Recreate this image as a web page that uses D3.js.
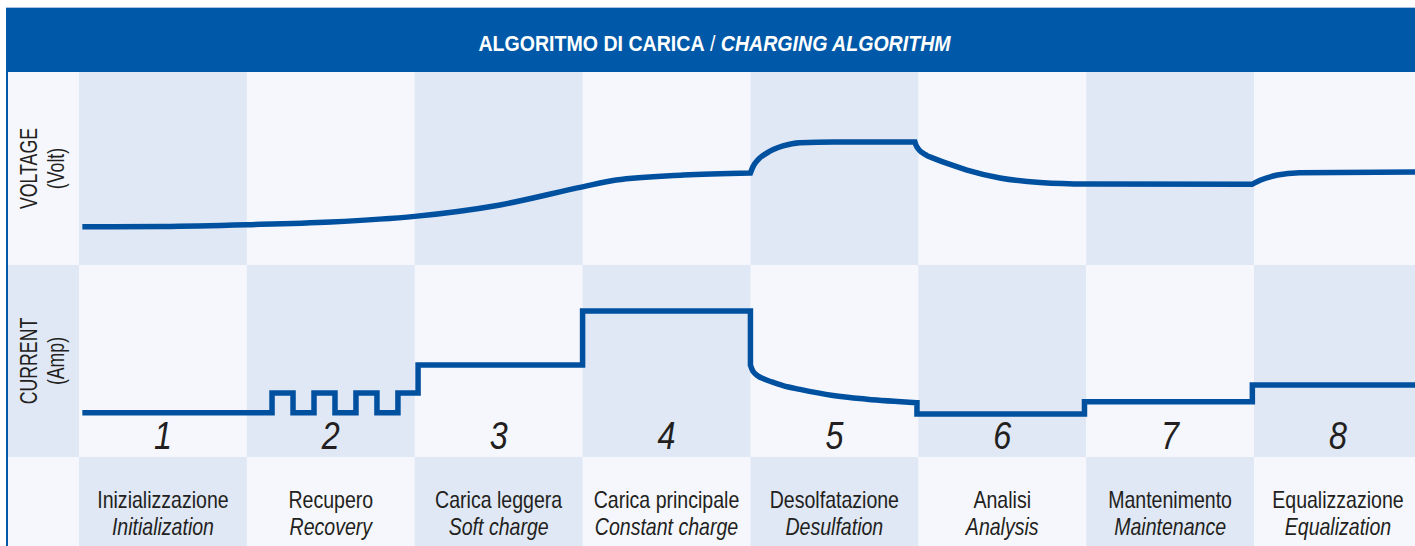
<!DOCTYPE html>
<html>
  <head>
    <meta charset="utf-8">
    <title>Algoritmo di carica</title>
    <script src="https://cdn.jsdelivr.net/npm/d3@7/dist/d3.min.js"></script>
    <style type="text/css">

html, body {
  margin: 0;
  padding: 0;
  background: #fff;
}

svg {
  display: block;
  font-family: "Liberation Sans", Arial, sans-serif;
}

.label { fill: #231f20; }

    </style>
  </head>
  <body>
    <script type="text/javascript">

// stages along the x axis (each stage is one unit wide)
var stageNumbers = ["1", "2", "3", "4", "5", "6", "7", "8"];
var stageIt = ["Inizializzazione", "Recupero", "Carica leggera", "Carica principale",
               "Desolfatazione", "Analisi", "Mantenimento", "Equalizzazione"];
var stageEn = ["Initialization", "Recovery", "Soft charge", "Constant charge",
               "Desulfation", "Analysis", "Maintenance", "Equalization"];

// voltage trace, relative level 0-100, one array per smooth piece
var voltageRise = [[0.02, 19.8], [0.5, 20.0], [1.0, 20.9], [1.5, 22.3], [2.0, 25.2],
                   [2.5, 31.0], [3.0, 40.5], [3.2, 44.0], [3.6, 46.6], [4.0, 47.7]];
var voltageDesulf = [[4.0, 47.7], [4.015, 50.9], [4.05, 55.0], [4.097, 58.0], [4.194, 61.7],
                     [4.295, 63.4], [4.5, 63.7], [4.98, 63.7]];
var voltageDrop = [[4.98, 63.7], [4.986, 62.2], [4.998, 60.4], [5.022, 58.3], [5.052, 56.7],
                   [5.088, 55.4], [5.189, 52.1], [5.29, 49.2], [5.487, 45.1], [5.725, 42.8],
                   [6.0, 42.0], [6.988, 41.8]];
var voltageEqual = [[6.988, 41.8], [7.04, 44.0], [7.14, 46.6], [7.27, 47.8], [8.0, 48.2]];

// current trace, relative level 0-100
var currentSteps = [[0.02, 23.1], [1.15, 33.3], [1.275, 23.1], [1.40, 33.3], [1.525, 23.1],
                    [1.65, 33.3], [1.775, 23.1], [1.90, 33.3], [2.02, 47.9], [3.0, 76.0], [4.0, 47.9]];
var currentDecay = [[4.0, 47.9], [4.009, 45.8], [4.021, 44.0], [4.045, 42.2], [4.081, 40.6],
                    [4.128, 39.1], [4.194, 37.2], [4.295, 35.2], [4.492, 32.0], [4.694, 30.1],
                    [4.992, 28.3]];
var currentTail = [[4.992, 28.3], [4.992, 22.4], [5.99, 28.8], [6.99, 37.5], [8.0, 37.5]];

var width = 1415, height = 546;
var left = 8, labelW = 71, colW = 167.86;
var headTop = 8, headBottom = 72, vBottom = 265, cBottom = 457;
var narrow = 0.85;

var light = "#f5f7fc", tint = "#e0e7f5", blue = "#0059a8", lineBlue = "#0050a0";

var svg = d3.select("body").append("svg")
    .attr("width", width)
    .attr("height", height);

var x = d3.scaleLinear().domain([0, 8]).range([left + labelW, left + labelW + 8 * colW]);
var yV = d3.scaleLinear().domain([0, 100]).range([vBottom, headBottom]);
var yC = d3.scaleLinear().domain([0, 100]).range([cBottom, vBottom]);

// checkerboard background
var rows = [[headBottom, vBottom], [vBottom, cBottom], [cBottom, height]];
rows.forEach(function(r, ri) {
  svg.append("rect")
      .attr("x", left).attr("y", r[0])
      .attr("width", labelW).attr("height", r[1] - r[0])
      .attr("fill", ri % 2 ? tint : light);
  svg.selectAll(null)
      .data(stageNumbers)
    .enter().append("rect")
      .attr("x", function(d, i) { return x(i); })
      .attr("y", r[0])
      .attr("width", colW + 0.5)
      .attr("height", r[1] - r[0])
      .attr("fill", function(d, i) { return (i + ri) % 2 ? light : tint; });
});

// header bar
svg.append("line")
    .attr("x1", left - 2).attr("x2", width)
    .attr("y1", headTop - 0.5).attr("y2", headTop - 0.5)
    .attr("stroke", "#a9c1e2");
svg.append("rect")
    .attr("x", left - 2).attr("y", headTop)
    .attr("width", width).attr("height", headBottom - headTop)
    .attr("fill", blue);
svg.append("rect")
    .attr("x", left - 2).attr("y", headTop)
    .attr("width", 2).attr("height", height)
    .attr("fill", blue);

var title = svg.append("text")
    .attr("transform", "translate(" + ((left + width) / 2 + 3) + ",51) scale(0.89,1)")
    .attr("text-anchor", "middle")
    .attr("fill", "#fff")
    .style("font-size", "22px")
    .style("font-weight", "bold");
title.append("tspan").text("ALGORITMO DI CARICA");
title.append("tspan").style("font-weight", "normal").text(" / ");
title.append("tspan").style("font-style", "italic").text("CHARGING ALGORITHM");

// row titles
function rowTitle(lines, cy) {
  var t = svg.append("text")
      .attr("class", "label")
      .attr("transform", "translate(0," + cy + ") rotate(-90) scale(0.77,1)")
      .attr("text-anchor", "middle")
      .style("font-size", "23px");
  t.append("tspan").attr("x", 0).attr("y", 37).text(lines[0]);
  t.append("tspan").attr("x", 0).attr("y", 64).text(lines[1]);
}
rowTitle(["VOLTAGE", "(Volt)"], (headBottom + vBottom) / 2);
rowTitle(["CURRENT", "(Amp)"], (vBottom + cBottom) / 2);

// stage numbers
svg.selectAll(".num")
    .data(stageNumbers)
  .enter().append("text")
    .attr("class", "label num")
    .attr("transform", function(d, i) { return "translate(" + x(i + 0.5) + ",449) scale(" + narrow + ",1)"; })
    .attr("text-anchor", "middle")
    .style("font-size", "38px")
    .style("font-style", "italic")
    .text(function(d) { return d; });

// stage names
svg.selectAll(".it")
    .data(stageIt)
  .enter().append("text")
    .attr("class", "label it")
    .attr("transform", function(d, i) { return "translate(" + x(i + 0.5) + ",508) scale(" + narrow + ",1)"; })
    .attr("text-anchor", "middle")
    .style("font-size", "23px")
    .text(function(d) { return d; });

svg.selectAll(".en")
    .data(stageEn)
  .enter().append("text")
    .attr("class", "label en")
    .attr("transform", function(d, i) { return "translate(" + x(i + 0.5) + ",535) scale(" + narrow + ",1)"; })
    .attr("text-anchor", "middle")
    .style("font-size", "23px")
    .style("font-style", "italic")
    .text(function(d) { return d; });

// traces
function trace(y, pieces) {
  return pieces.map(function(p, i) {
    var d = d3.line()
        .x(function(d) { return x(d[0]); })
        .y(function(d) { return y(d[1]); })
        .curve(p[1])(p[0]);
    return i ? d.replace(/^M/, "L") : d;
  }).join("");
}

svg.append("path")
    .attr("d", trace(yV, [[voltageRise, d3.curveMonotoneX], [voltageDesulf, d3.curveMonotoneX],
                          [voltageDrop, d3.curveMonotoneX], [voltageEqual, d3.curveMonotoneX]]))
    .attr("fill", "none")
    .attr("stroke", lineBlue)
    .attr("stroke-width", 5.5);

svg.append("path")
    .attr("d", trace(yC, [[currentSteps, d3.curveStepAfter], [currentDecay, d3.curveMonotoneX],
                          [currentTail, d3.curveStepAfter]]))
    .attr("fill", "none")
    .attr("stroke", lineBlue)
    .attr("stroke-width", 5.5);

    </script>
  </body>
</html>
